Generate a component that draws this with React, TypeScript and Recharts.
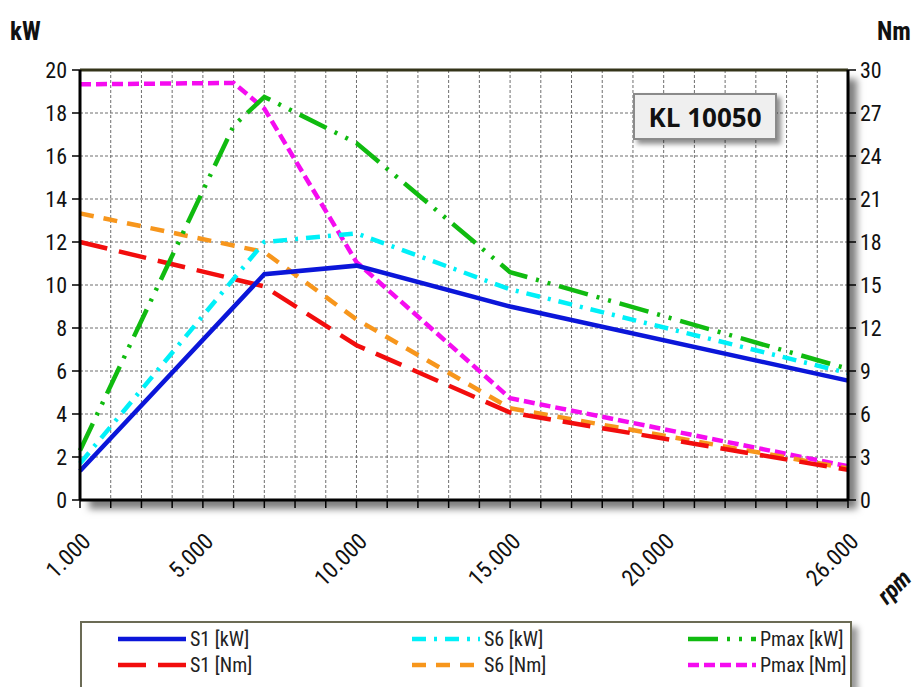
import React from "react";
import { LineChart, Line, XAxis, YAxis, CartesianGrid, ReferenceLine } from "recharts";

// ---- data ----
const rpm = [1000, 6000, 7000, 10000, 15000, 26000];
const s1kW = [1.35, null, 10.5, 10.9, 9.0, 5.55];
const s6kW = [1.7, null, 12.0, 12.4, 9.8, 5.9];
const pmaxkW = [2.3, 17.4, 18.75, 16.6, 10.6, 6.1];
const s1Nm = [18.0, null, 14.9, 10.8, 6.1, 2.1];
const s6Nm = [20.0, null, 17.3, 12.6, 6.4, 2.2];
const pmaxNm = [29.0, 29.1, 27.3, 16.6, 7.1, 2.35];

const xGridTicks = [
  1000, 2000, 3000, 4000, 5000, 6000, 7000, 8000, 9000, 10000, 11000, 12000, 13000,
  14000, 15000, 16000, 17000, 18000, 19000, 20000, 21000, 22000, 23000, 24000, 25000, 26000,
];
const xLabelTicks = [1000, 5000, 10000, 15000, 20000, 26000];
const xTickLabels = ["1.000", "5.000", "10.000", "15.000", "20.000", "26.000"];
const kWTicks = [0, 2, 4, 6, 8, 10, 12, 14, 16, 18, 20];
const NmTicks = [0, 3, 6, 9, 12, 15, 18, 21, 24, 27, 30];

const seriesNames = ["S1 [kW]", "S6 [kW]", "Pmax [kW]", "S1 [Nm]", "S6 [Nm]", "Pmax [Nm]"];

const data = rpm.map((r, i) => ({
  rpm: r,
  s1kW: s1kW[i],
  s6kW: s6kW[i],
  pmaxkW: pmaxkW[i],
  s1Nm: s1Nm[i],
  s6Nm: s6Nm[i],
  pmaxNm: pmaxNm[i],
}));

const styles = {
  s1kW: { color: "#0b16d9", dash: undefined as string | undefined, axis: "kW" },
  s6kW: { color: "#00f0f8", dash: "14 8 3 8", axis: "kW" },
  pmaxkW: { color: "#10bb10", dash: "30 9 3 9 3 9", axis: "kW" },
  s1Nm: { color: "#f20d0d", dash: "28 12", axis: "Nm" },
  s6Nm: { color: "#f7961c", dash: "14 10", axis: "Nm" },
  pmaxNm: { color: "#f50cf0", dash: "11 5", axis: "Nm" },
};
const legendOrder = ["s1kW", "s6kW", "pmaxkW", "s1Nm", "s6Nm", "pmaxNm"];
const drawOrder = ["pmaxNm", "s6Nm", "s1Nm", "s1kW", "s6kW", "pmaxkW"];

const FONT = "'Liberation Sans Narrow', 'Roboto Condensed', Roboto, sans-serif";

const XTick = (props: any) => {
  const { x, y, payload } = props;
  const idx = xLabelTicks.indexOf(payload.value);
  if (idx < 0) return null;
  return (
    <g transform={`translate(${x + 12},${y + 33})`}>
      <text textAnchor="end" transform="rotate(-45)" fontSize={23} fill="#111" fontFamily={FONT}>
        {xTickLabels[idx]}
      </text>
    </g>
  );
};

export default function App() {
  return (
    <div
      style={{
        position: "absolute",
        left: 0,
        top: 0,
        width: 922,
        height: 687,
        background: "#fff",
        overflow: "hidden",
        fontFamily: FONT,
      }}
    >
      {/* plot-area shadow */}
      <div
        style={{
          position: "absolute",
          left: 80,
          top: 70,
          width: 768,
          height: 430,
          background: "#fff",
          boxShadow: "9px 9px 7px rgba(0,0,0,0.5)",
        }}
      />
      <div style={{ position: "absolute", left: 0, top: 0 }}>
        <LineChart
          width={922}
          height={687}
          data={data}
          margin={{ top: 70, right: 24, left: 20, bottom: 87 }}
        >
          <CartesianGrid
            yAxisId="kW"
            stroke="#6e6e6e"
            strokeDasharray="3 2"
            verticalValues={xGridTicks}
          />
          <XAxis
            dataKey="rpm"
            type="number"
            domain={[1000, 26000]}
            ticks={xGridTicks}
            interval={0}
            height={100}
            tick={<XTick />}
            tickSize={8}
            tickLine={{ stroke: "#000", strokeWidth: 1.5 }}
            axisLine={{ stroke: "#000", strokeWidth: 3 }}
          />
          <YAxis
            yAxisId="kW"
            domain={[0, 20]}
            ticks={kWTicks}
            interval={0}
            width={60}
            tickSize={8}
            tickMargin={5}
            tick={{ fontSize: 22, fill: "#111", fontFamily: FONT }}
            tickLine={{ stroke: "#000", strokeWidth: 1.5 }}
            axisLine={{ stroke: "#000", strokeWidth: 3 }}
          />
          <YAxis
            yAxisId="Nm"
            orientation="right"
            domain={[0, 30]}
            ticks={NmTicks}
            interval={0}
            width={50}
            tickSize={8}
            tickMargin={4}
            tick={{ fontSize: 22, fill: "#111", fontFamily: FONT, textAnchor: "start" }}
            tickLine={{ stroke: "#000", strokeWidth: 1.5 }}
            axisLine={{ stroke: "#000", strokeWidth: 3 }}
          />
          <ReferenceLine yAxisId="kW" y={20} stroke="#34341a" strokeWidth={3} />
          {drawOrder.map((k) => {
            const s = (styles as any)[k];
            return (
              <Line
                key={k}
                yAxisId={s.axis}
                dataKey={k}
                type="linear"
                stroke={s.color}
                strokeWidth={4.5}
                strokeDasharray={s.dash}
                dot={false}
                activeDot={false}
                connectNulls
                isAnimationActive={false}
              />
            );
          })}
        </LineChart>
      </div>

      {/* axis titles */}
      <div style={{ position: "absolute", left: 10, top: 17, fontSize: 25, fontWeight: "bold", color: "#111" }}>
        kW
      </div>
      <div style={{ position: "absolute", left: 877, top: 17, fontSize: 25, fontWeight: "bold", color: "#111" }}>
        Nm
      </div>
      <div
        style={{
          position: "absolute",
          left: 876,
          top: 573,
          fontSize: 24,
          fontWeight: "bold",
          fontStyle: "italic",
          color: "#111",
          transform: "rotate(-45deg)",
          transformOrigin: "center",
        }}
      >
        rpm
      </div>

      {/* model box */}
      <div
        style={{
          position: "absolute",
          left: 633,
          top: 93,
          width: 140,
          height: 43,
          background: "#efefef",
          border: "2px solid #8a8a8a",
          boxShadow: "4px 4px 5px rgba(0,0,0,0.45)",
          display: "flex",
          alignItems: "center",
          justifyContent: "center",
          fontSize: 26,
          fontWeight: "bold",
          color: "#111",
          fontFamily: "'Open Sans', sans-serif",
        }}
      >
        KL 10050
      </div>

      {/* legend */}
      <div
        style={{
          position: "absolute",
          left: 80,
          top: 621,
          width: 768,
          height: 80,
          border: "2px solid #6b6b55",
          background: "#fff",
          boxShadow: "6px 6px 6px rgba(0,0,0,0.4)",
        }}
      >
        {legendOrder.map((k, i) => {
          const s = (styles as any)[k];
          const col = i % 3;
          const row = Math.floor(i / 3);
          const left = [36, 330, 606][col];
          const top = [3, 29][row];
          return (
            <div
              key={k}
              style={{
                position: "absolute",
                left,
                top,
                height: 26,
                display: "flex",
                alignItems: "center",
                whiteSpace: "nowrap",
              }}
            >
              <svg width={70} height={10} style={{ display: "block" }}>
                <line
                  x1={0}
                  y1={5}
                  x2={68}
                  y2={5}
                  stroke={s.color}
                  strokeWidth={4.5}
                  strokeDasharray={s.dash}
                />
              </svg>
              <span style={{ fontSize: 20, color: "#222", marginLeft: 2 }}>{seriesNames[i]}</span>
            </div>
          );
        })}
      </div>
    </div>
  );
}
